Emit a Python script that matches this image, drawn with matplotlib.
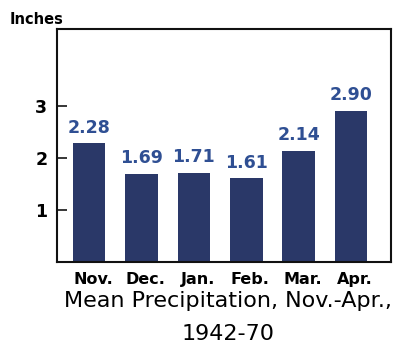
import matplotlib.pyplot as plt
from matplotlib.transforms import ScaledTranslation

months = ["Nov.", "Dec.", "Jan.", "Feb.", "Mar.", "Apr."]
precip = [2.28, 1.69, 1.71, 1.61, 2.14, 2.90]
yticks = [1, 2, 3]

bar_color = "#2a3868"
text_blue = "#2f4f93"

fig = plt.figure(figsize=(4.10, 3.49), dpi=100)
ax = fig.add_axes([57 / 410, 1 - 262 / 349, 334 / 410, 233 / 349])

x = range(len(months))
ax.bar(x, precip, width=0.62, color=bar_color)
for xi, v in zip(x, precip):
    ax.text(xi, v + 0.13, f"{v:.2f}", ha="center", va="bottom",
            fontsize=12.5, color=text_blue, fontweight="bold")

ax.set_xlim(-0.61, 5.76)
ax.set_ylim(0, 4.48)
ax.set_yticks(yticks)
ax.set_yticklabels([str(t) for t in yticks], fontsize=12.5, fontweight="bold")
ax.tick_params(axis="y", direction="in", length=7.2, width=1.1, pad=7)
ax.set_xticks(list(x))
ax.set_xticklabels(months, fontsize=11.5, fontweight="bold")
ax.tick_params(axis="x", length=0, pad=7)
# month labels sit a little right of the bars in the original
shift = ScaledTranslation(4 / 100, 0, fig.dpi_scale_trans)
for lbl in ax.get_xticklabels():
    lbl.set_transform(lbl.get_transform() + shift)
for s in ax.spines.values():
    s.set_linewidth(1.5)
    s.set_color("#111111")

fig.text(10 / 410, 1 - 24 / 349, "Inches", fontsize=10.5, fontweight="bold",
         va="baseline", ha="left")
fig.text(228 / 410, 1 - 307 / 349, "Mean Precipitation, Nov.-Apr.,",
         fontsize=16, ha="center", va="baseline")
fig.text(228 / 410, 1 - 340 / 349, "1942-70",
         fontsize=16, ha="center", va="baseline")

fig.savefig("out.png", dpi=100)
